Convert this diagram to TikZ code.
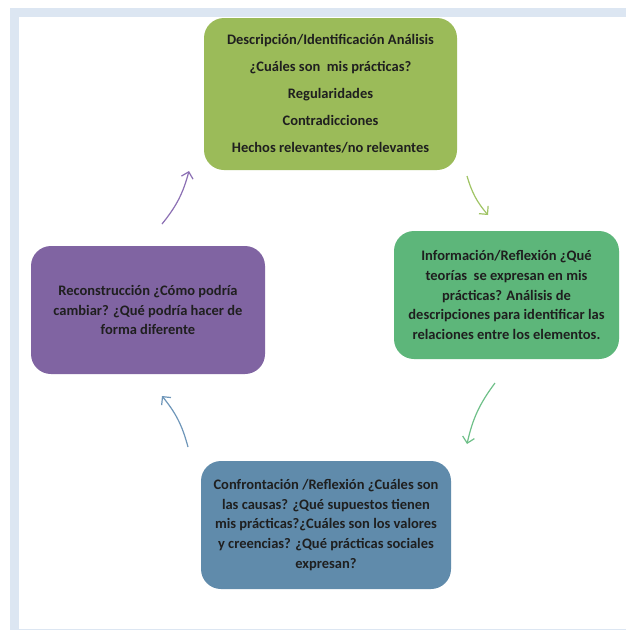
\documentclass[tikz,border=0pt]{standalone}
\usepackage{fontspec}
\setmainfont{Carlito}
\usetikzlibrary{arrows.meta}
\definecolor{framebg}{RGB}{220,230,242}
\definecolor{stageA}{RGB}{155,187,89}
\definecolor{stageB}{RGB}{93,182,122}
\definecolor{stageC}{RGB}{96,139,171}
\definecolor{stageD}{RGB}{128,100,162}
\definecolor{arrA}{RGB}{160,196,100}
\definecolor{arrB}{RGB}{110,192,136}
\definecolor{arrC}{RGB}{110,150,185}
\definecolor{arrD}{RGB}{140,112,180}
\begin{document}
\begin{tikzpicture}[x=1pt,y=-1pt,
  stage/.style={rounded corners=20pt, align=center, inner sep=0pt,
    font=\bfseries\fontsize{14.5}{19.6}\selectfont, text=black!88},
  cyc/.style={line width=1.2pt, -{Straight Barb[length=6pt,width=12pt]}}
]
\useasboundingbox (0,0) rectangle (626,630);
% page frame
\fill[framebg] (10,8) rectangle (626,630);
\fill[white] (19,17) rectangle (626,628.5);

% the four stages of the cycle
\node[stage, fill=stageA, minimum width=253pt, minimum height=152pt,
  font=\bfseries\fontsize{14.5}{27}\selectfont] (desc) at (330.5,94)
  {Descripción/Identificación Análisis\\ ¿Cuáles son\ \ mis prácticas?\\ Regularidades\\ Contradicciones\\ Hechos relevantes/no relevantes};
\node[stage, fill=stageB, minimum width=225pt, minimum height=128pt] (info) at (506.5,295)
  {Información/Reflexión ¿Qué\\ teorías\ \ se expresan en mis\\ prácticas? Análisis de\\ descripciones para\ identificar las\\ relaciones entre los elementos.};
\node[stage, fill=stageC, minimum width=250pt, minimum height=128pt] (conf) at (326,525)
  {Confrontación\ /Reflexión ¿Cuáles son\\ las causas? ¿Qué supuestos\ tienen\\ mis prácticas?¿Cuáles son los valores\\ y creencias? ¿Qué prácticas sociales\\ expresan?};
\node[stage, fill=stageD, minimum width=234pt, minimum height=128pt] (reco) at (148,310)
  {Reconstrucción ¿Cómo podría\\ cambiar? ¿Qué podría hacer de\\ forma diferente};

% arrow end points between the stages
\coordinate (ab) at (467,176);
\coordinate (ae) at (488,215);
\coordinate (bb) at (495,383);
\coordinate (be) at (467,444);
\coordinate (cb) at (188,447);
\coordinate (ce) at (162,396);
\coordinate (db) at (162,224);
\coordinate (de) at (189,171);

\draw[cyc, arrA] (ab) to[bend right=12] (ae);
\draw[cyc, arrB] (bb) to[bend right=12] (be);
\draw[cyc, arrC] (cb) to[bend right=12] (ce);
\draw[cyc, arrD] (db) to[bend right=12] (de);
\end{tikzpicture}
\end{document}
